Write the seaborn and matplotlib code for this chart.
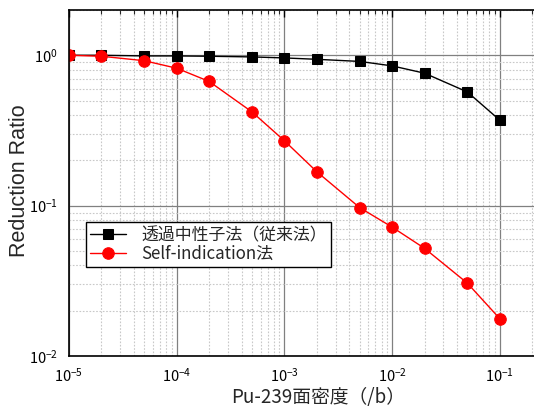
import numpy as np
import pandas as pd
import matplotlib
matplotlib.use("Agg")
import matplotlib.pyplot as plt
import seaborn as sns
from matplotlib.ticker import LogLocator, NullFormatter, FixedLocator

density = [1e-5, 2e-5, 5e-5, 1e-4, 2e-4, 5e-4, 1e-3, 2e-3, 5e-3, 1e-2, 2e-2, 5e-2, 1e-1]
transmission = [1.0, 1.0, 0.99, 0.99, 0.985, 0.975, 0.96, 0.94, 0.91, 0.85, 0.76, 0.57, 0.37]
self_indication = [1.0, 0.985, 0.92, 0.82, 0.67, 0.42, 0.27, 0.168, 0.097, 0.072, 0.052, 0.0305, 0.0177]
x_ticks = [1e-5, 1e-4, 1e-3, 1e-2, 1e-1]
label_trans = "透過中性子法（従来法）"
label_self = "Self-indication法"

sns.set_style("white")
plt.rcParams['font.family'] = ['Noto Sans CJK JP', 'DejaVu Sans']
plt.rcParams['mathtext.fontset'] = 'dejavusans'

fig = plt.figure(figsize=(5.34, 4.12), dpi=100)
ax = fig.add_axes([69/534, 56/412, 538.5/534, 346/412])

df = pd.DataFrame({"x": density, "trans": transmission, "self": self_indication})
sns.lineplot(data=df, x="x", y="trans", ax=ax, color="black", marker="s",
             markersize=7.5, markeredgecolor="black", linewidth=1.0, label=label_trans)
sns.lineplot(data=df, x="x", y="self", ax=ax, color="red", marker="o",
             markersize=8.3, markeredgecolor="red", linewidth=1.0, label=label_self)

ax.set_xscale("log")
ax.set_yscale("log")
ax.set_xlim(1e-5, 1)
ax.set_ylim(1e-2, 2)

ax.xaxis.set_major_locator(FixedLocator(x_ticks))
ax.xaxis.set_minor_locator(LogLocator(base=10, subs=np.arange(2, 10), numticks=20))
ax.yaxis.set_major_locator(LogLocator(base=10, numticks=10))
ax.yaxis.set_minor_locator(LogLocator(base=10, subs=np.arange(2, 10), numticks=20))
ax.xaxis.set_minor_formatter(NullFormatter())
ax.yaxis.set_minor_formatter(NullFormatter())

ax.grid(which="major", color="#808080", linestyle="-", linewidth=0.9)
ax.grid(which="minor", color="#c8c8c8", linestyle=(0, (1.5, 1.5)), linewidth=0.8)
ax.set_axisbelow(True)

ax.tick_params(which="major", direction="in", length=5, width=1.0, top=True, right=True,
               labelsize=10.5, colors="black", pad=8)
ax.tick_params(which="minor", direction="in", length=3, width=0.8, top=True, right=True)
for s in ax.spines.values():
    s.set_color("black")
    s.set_linewidth(1.2)

ax.set_xlabel("Pu-239面密度（/b）", fontsize=13.5)
ax.xaxis.set_label_coords((318 - 69) / 538.5, -0.09)
ax.set_ylabel("Reduction Ratio", fontsize=15.5, family=["Liberation Sans", "DejaVu Sans"])
ax.yaxis.set_label_coords(-(69 - 30) / 538.5, (412 - 181 - 56) / 346)

leg = ax.legend(loc="lower left", bbox_to_anchor=(0.0316, 0.257), borderaxespad=0,
                fontsize=12.2, frameon=True, fancybox=False, framealpha=1,
                edgecolor="black", handlelength=2.1, handletextpad=0.9,
                borderpad=0.25, labelspacing=0.05)
leg.get_frame().set_linewidth(1.0)

fig.savefig("out.png", dpi=100)
